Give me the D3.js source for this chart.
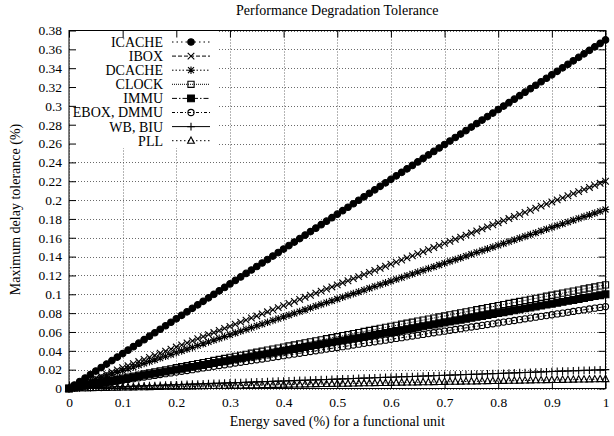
<!DOCTYPE html>
<html><head><meta charset="utf-8">
<script src="https://cdn.jsdelivr.net/npm/d3@7"></script>
<style>
body{margin:0;background:#fff}
svg{display:block}
text{font-family:"Liberation Serif","Times New Roman",serif;fill:#000}
</style>
</head><body>
<svg id="c" width="614" height="436"></svg>
<script>
// ---------- DATA ----------
const xValues=[0,.01,.02,.03,.04,.05,.06,.07,.08,.09,
.1,.11,.12,.13,.14,.15,.16,.17,.18,.19,
.2,.21,.22,.23,.24,.25,.26,.27,.28,.29,
.3,.31,.32,.33,.34,.35,.36,.37,.38,.39,
.4,.41,.42,.43,.44,.45,.46,.47,.48,.49,
.5,.51,.52,.53,.54,.55,.56,.57,.58,.59,
.6,.61,.62,.63,.64,.65,.66,.67,.68,.69,
.7,.71,.72,.73,.74,.75,.76,.77,.78,.79,
.8,.81,.82,.83,.84,.85,.86,.87,.88,.89,
.9,.91,.92,.93,.94,.95,.96,.97,.98,.99,
1];
const icache=[0,.0037,.0074,.0111,.0148,.0185,.0222,.0259,.0296,.0333,
.037,.0407,.0444,.0481,.0518,.0555,.0592,.0629,.0666,.0703,
.074,.0777,.0814,.0851,.0888,.0925,.0962,.0999,.1036,.1073,
.111,.1147,.1184,.1221,.1258,.1295,.1332,.1369,.1406,.1443,
.148,.1517,.1554,.1591,.1628,.1665,.1702,.1739,.1776,.1813,
.185,.1887,.1924,.1961,.1998,.2035,.2072,.2109,.2146,.2183,
.222,.2257,.2294,.2331,.2368,.2405,.2442,.2479,.2516,.2553,
.259,.2627,.2664,.2701,.2738,.2775,.2812,.2849,.2886,.2923,
.296,.2997,.3034,.3071,.3108,.3145,.3182,.3219,.3256,.3293,
.333,.3367,.3404,.3441,.3478,.3515,.3552,.3589,.3626,.3663,
.37];
const ibox=[0,.0022,.0044,.0066,.0088,.011,.0132,.0154,.0176,.0198,
.022,.0242,.0264,.0286,.0308,.033,.0352,.0374,.0396,.0418,
.044,.0462,.0484,.0506,.0528,.055,.0572,.0594,.0616,.0638,
.066,.0682,.0704,.0726,.0748,.077,.0792,.0814,.0836,.0858,
.088,.0902,.0924,.0946,.0968,.099,.1012,.1034,.1056,.1078,
.11,.1122,.1144,.1166,.1188,.121,.1232,.1254,.1276,.1298,
.132,.1342,.1364,.1386,.1408,.143,.1452,.1474,.1496,.1518,
.154,.1562,.1584,.1606,.1628,.165,.1672,.1694,.1716,.1738,
.176,.1782,.1804,.1826,.1848,.187,.1892,.1914,.1936,.1958,
.198,.2002,.2024,.2046,.2068,.209,.2112,.2134,.2156,.2178,
.22];
const dcache=[0,.0019,.0038,.0057,.0076,.0095,.0114,.0133,.0152,.0171,
.019,.0209,.0228,.0247,.0266,.0285,.0304,.0323,.0342,.0361,
.038,.0399,.0418,.0437,.0456,.0475,.0494,.0513,.0532,.0551,
.057,.0589,.0608,.0627,.0646,.0665,.0684,.0703,.0722,.0741,
.076,.0779,.0798,.0817,.0836,.0855,.0874,.0893,.0912,.0931,
.095,.0969,.0988,.1007,.1026,.1045,.1064,.1083,.1102,.1121,
.114,.1159,.1178,.1197,.1216,.1235,.1254,.1273,.1292,.1311,
.133,.1349,.1368,.1387,.1406,.1425,.1444,.1463,.1482,.1501,
.152,.1539,.1558,.1577,.1596,.1615,.1634,.1653,.1672,.1691,
.171,.1729,.1748,.1767,.1786,.1805,.1824,.1843,.1862,.1881,
.19];
const clock=[0,.0011,.0022,.0033,.0044,.0055,.0066,.0077,.0088,.0099,
.011,.0121,.0132,.0143,.0154,.0165,.0176,.0187,.0198,.0209,
.022,.0231,.0242,.0253,.0264,.0275,.0286,.0297,.0308,.0319,
.033,.0341,.0352,.0363,.0374,.0385,.0396,.0407,.0418,.0429,
.044,.0451,.0462,.0473,.0484,.0495,.0506,.0517,.0528,.0539,
.055,.0561,.0572,.0583,.0594,.0605,.0616,.0627,.0638,.0649,
.066,.0671,.0682,.0693,.0704,.0715,.0726,.0737,.0748,.0759,
.077,.0781,.0792,.0803,.0814,.0825,.0836,.0847,.0858,.0869,
.088,.0891,.0902,.0913,.0924,.0935,.0946,.0957,.0968,.0979,
.099,.1001,.1012,.1023,.1034,.1045,.1056,.1067,.1078,.1089,
.11];
const immu=[0,.001,.002,.003,.004,.005,.006,.007,.008,.009,
.01,.011,.012,.013,.014,.015,.016,.017,.018,.019,
.02,.021,.022,.023,.024,.025,.026,.027,.028,.029,
.03,.031,.032,.033,.034,.035,.036,.037,.038,.039,
.04,.041,.042,.043,.044,.045,.046,.047,.048,.049,
.05,.051,.052,.053,.054,.055,.056,.057,.058,.059,
.06,.061,.062,.063,.064,.065,.066,.067,.068,.069,
.07,.071,.072,.073,.074,.075,.076,.077,.078,.079,
.08,.081,.082,.083,.084,.085,.086,.087,.088,.089,
.09,.091,.092,.093,.094,.095,.096,.097,.098,.099,
.1];
const eboxDmmu=[0,.0009,.0017,.0026,.0035,.0044,.0052,.0061,.007,.0078,
.0087,.0096,.0104,.0113,.0122,.0131,.0139,.0148,.0157,.0165,
.0174,.0183,.0191,.02,.0209,.0218,.0226,.0235,.0244,.0252,
.0261,.027,.0278,.0287,.0296,.0305,.0313,.0322,.0331,.0339,
.0348,.0357,.0365,.0374,.0383,.0392,.04,.0409,.0418,.0426,
.0435,.0444,.0452,.0461,.047,.0479,.0487,.0496,.0505,.0513,
.0522,.0531,.0539,.0548,.0557,.0566,.0574,.0583,.0592,.06,
.0609,.0618,.0626,.0635,.0644,.0653,.0661,.067,.0679,.0687,
.0696,.0705,.0713,.0722,.0731,.074,.0748,.0757,.0766,.0774,
.0783,.0792,.08,.0809,.0818,.0827,.0835,.0844,.0853,.0861,
.087];
const wbBiu=[0,.0002,.0004,.0006,.0008,.001,.0012,.0014,.0016,.0018,
.002,.0022,.0024,.0026,.0028,.003,.0032,.0034,.0036,.0038,
.004,.0042,.0044,.0046,.0048,.005,.0052,.0054,.0056,.0058,
.006,.0062,.0064,.0066,.0068,.007,.0072,.0074,.0076,.0078,
.008,.0082,.0084,.0086,.0088,.009,.0092,.0094,.0096,.0098,
.01,.0102,.0104,.0106,.0108,.011,.0112,.0114,.0116,.0118,
.012,.0122,.0124,.0126,.0128,.013,.0132,.0134,.0136,.0138,
.014,.0142,.0144,.0146,.0148,.015,.0152,.0154,.0156,.0158,
.016,.0162,.0164,.0166,.0168,.017,.0172,.0174,.0176,.0178,
.018,.0182,.0184,.0186,.0188,.019,.0192,.0194,.0196,.0198,
.02];
const pll=[0,.0001,.0002,.0003,.0004,.0005,.0006,.0007,.0008,.0009,
.001,.0011,.0012,.0013,.0014,.0015,.0016,.0017,.0018,.0019,
.002,.0021,.0022,.0023,.0024,.0025,.0026,.0027,.0028,.0029,
.003,.0031,.0032,.0033,.0034,.0035,.0036,.0037,.0038,.0039,
.004,.0041,.0042,.0043,.0044,.0045,.0046,.0047,.0048,.0049,
.005,.0051,.0052,.0053,.0054,.0055,.0056,.0057,.0058,.0059,
.006,.0061,.0062,.0063,.0064,.0065,.0066,.0067,.0068,.0069,
.007,.0071,.0072,.0073,.0074,.0075,.0076,.0077,.0078,.0079,
.008,.0081,.0082,.0083,.0084,.0085,.0086,.0087,.0088,.0089,
.009,.0091,.0092,.0093,.0094,.0095,.0096,.0097,.0098,.0099,
.01];
const seriesNames=["ICACHE","IBOX","DCACHE","CLOCK","IMMU","EBOX, DMMU","WB, BIU","PLL"];
const seriesValues=[icache,ibox,dcache,clock,immu,eboxDmmu,wbBiu,pll];
const xTickValues=[0,.1,.2,.3,.4,.5,.6,.7,.8,.9,1];
const xTickLabels=["0","0.1","0.2","0.3","0.4","0.5","0.6","0.7","0.8","0.9","1"];
const yTickValues=[0,.02,.04,.06,.08,.1,.12,.14,.16,.18,.2,.22,.24,.26,.28,.3,.32,.34,.36,.38];
const yTickLabels=["0","0.02","0.04","0.06","0.08","0.1","0.12","0.14","0.16","0.18","0.2","0.22","0.24","0.26","0.28","0.3","0.32","0.34","0.36","0.38"];
const chartTitle="Performance Degradation Tolerance";
const xTitle="Energy saved (%) for a functional unit";
const yTitle="Maximum delay tolerance (%)";

// ---------- STYLE ----------
const styles=[
 {marker:"circleFilled",dash:"1.5,3"},
 {marker:"times",dash:"4,2"},
 {marker:"star",dash:"1.5,2"},
 {marker:"squareOpen",dash:"1,1"},
 {marker:"squareFilled",dash:"5,2,1.5,2"},
 {marker:"circleOpen",dash:"3,2,1,2"},
 {marker:"plus",dash:null},
 {marker:"triangleOpen",dash:"1.5,2.5"}
];
function markerPath(t){
  switch(t){
    case "circleFilled": return "M3.3,0A3.3,3.3 0 1,1 -3.3,0A3.3,3.3 0 1,1 3.3,0Z";
    case "circleOpen": return "M3.1,0A3.1,3.1 0 1,1 -3.1,0A3.1,3.1 0 1,1 3.1,0Z";
    case "times": return "M-3.3,-3.3L3.3,3.3M-3.3,3.3L3.3,-3.3";
    case "plus": return "M-3.8,0L3.8,0M0,-3.8L0,3.8";
    case "star": return "M-3.8,0L3.8,0M0,-3.8L0,3.8M-3,-3L3,3M-3,3L3,-3";
    case "squareOpen": return "M-3.1,-3.1H3.1V3.1H-3.1Z";
    case "squareFilled": return "M-3.4,-3.4H3.4V3.4H-3.4Z";
    case "triangleOpen": return "M0,-3.8L3.4,2.5L-3.4,2.5Z";
  }
}
function markerFill(t){return (t==="circleFilled"||t==="squareFilled")?"#000":"none";}

const svg=d3.select("#c");
const x=d3.scaleLinear().domain([0,1]).range([69,605.5]);
const y=d3.scaleLinear().domain([0,0.38]).range([388.5,30.5]);
const fs=13.5;

// grid
const grid=svg.append("g").attr("stroke","#444").attr("stroke-width",0.8).attr("stroke-dasharray","1,2");
grid.selectAll(".gx").data(xTickValues).join("line")
  .attr("x1",d=>Math.round(x(d))+0.5).attr("x2",d=>Math.round(x(d))+0.5).attr("y1",y(0)).attr("y2",y(0.38));
grid.selectAll(".gy").data(yTickValues).join("line")
  .attr("y1",d=>Math.round(y(d))+0.5).attr("y2",d=>Math.round(y(d))+0.5).attr("x1",x(0)).attr("x2",x(1));

// series
const line=d3.line().x((d,i)=>x(xValues[i])).y(d=>y(d));
const plot=svg.append("g");
seriesValues.forEach((vals,si)=>{
  const st=styles[si];
  const g=plot.append("g");
  g.append("path").datum(vals).attr("d",line).attr("fill","none").attr("stroke","#000").attr("stroke-width",1)
   .attr("stroke-dasharray",st.dash);
  g.selectAll("path.m").data(vals).join("path").attr("class","m")
   .attr("transform",(d,i)=>`translate(${x(xValues[i])},${y(d)})`)
   .attr("d",markerPath(st.marker)).attr("fill",markerFill(st.marker))
   .attr("stroke","#000").attr("stroke-width",1.1);
});

// legend (opaque)
const lg=svg.append("g");
lg.append("rect").attr("x",70).attr("y",31).attr("width",148).attr("height",117).attr("fill","#fff");
seriesNames.forEach((n,i)=>{
  const ly=42+i*14.1;
  lg.append("text").attr("x",163).attr("y",ly).attr("dy","0.35em").attr("text-anchor","end")
    .attr("font-size",14).text(n);
  lg.append("line").attr("x1",172).attr("x2",210).attr("y1",ly).attr("y2",ly)
    .attr("stroke","#000").attr("stroke-width",1).attr("stroke-dasharray",styles[i].dash);
  lg.append("path").attr("transform",`translate(191,${ly})`).attr("d",markerPath(styles[i].marker))
    .attr("fill",markerFill(styles[i].marker)).attr("stroke","#000").attr("stroke-width",1.1);
});

// axes
function styleAxis(g){g.select(".domain").remove();g.selectAll("line").attr("stroke","#000");
  g.selectAll("text").attr("font-size",fs).attr("font-family",'"Liberation Serif","Times New Roman",serif');}
svg.append("g").attr("transform",`translate(0,${y(0)})`)
  .call(d3.axisBottom(x).tickValues(xTickValues).tickFormat((d,i)=>xTickLabels[i]).tickSizeInner(-7).tickSizeOuter(0).tickPadding(9))
  .call(styleAxis);
svg.append("g").attr("transform",`translate(0,${y(0.38)})`)
  .call(d3.axisTop(x).tickValues(xTickValues).tickFormat("").tickSizeInner(-7).tickSizeOuter(0))
  .call(styleAxis);
svg.append("g").attr("transform",`translate(${x(0)},0)`)
  .call(d3.axisLeft(y).tickValues(yTickValues).tickFormat((d,i)=>yTickLabels[i]).tickSizeInner(-7).tickSizeOuter(0).tickPadding(7))
  .call(styleAxis);
svg.append("g").attr("transform",`translate(${x(1)},0)`)
  .call(d3.axisRight(y).tickValues(yTickValues).tickFormat("").tickSizeInner(-7).tickSizeOuter(0))
  .call(styleAxis);

// frame
svg.append("rect").attr("x",x(0)).attr("y",y(0.38)).attr("width",x(1)-x(0)).attr("height",y(0)-y(0.38))
  .attr("fill","none").attr("stroke","#000").attr("stroke-width",1);

// titles
svg.append("text").attr("x",(x(0)+x(1))/2).attr("y",15).attr("text-anchor","middle").attr("font-size",14).text(chartTitle);
svg.append("text").attr("x",(x(0)+x(1))/2).attr("y",426).attr("text-anchor","middle").attr("font-size",14).text(xTitle);
svg.append("text").attr("transform",`translate(20,${(y(0)+y(0.38))/2}) rotate(-90)`).attr("text-anchor","middle").attr("font-size",14).text(yTitle);
</script>
</body></html>
